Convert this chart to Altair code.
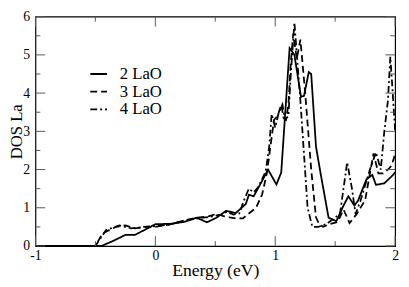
import altair as alt
import pandas as pd

# ---- data ----
e2 = [-1.0, -0.45, -0.36, -0.25, -0.17, -0.09, 0.0, 0.13, 0.24, 0.345, 0.43, 0.51, 0.59, 0.62, 0.67,
      0.755, 0.78, 0.82, 0.89, 0.94, 1.01, 1.05, 1.12, 1.16, 1.215, 1.24, 1.28, 1.30, 1.34, 1.38,
      1.445, 1.51, 1.57, 1.61, 1.66, 1.69, 1.76, 1.81, 1.84, 1.91, 1.98, 2.0]
d2 = [0.0, 0.0, 0.12, 0.29, 0.29, 0.42, 0.57, 0.58, 0.63, 0.74, 0.62, 0.74, 0.92, 0.9, 0.86,
      1.1, 1.34, 1.3, 1.7, 2.0, 1.61, 1.92, 5.18, 5.0, 3.9, 3.93, 4.55, 4.5, 2.6, 1.87,
      0.74, 0.65, 1.06, 1.3, 1.06, 1.18, 1.74, 1.86, 1.6, 1.64, 1.85, 1.93]

e3 = [-1.0, -0.5, -0.44, -0.33, -0.25, -0.17, -0.09, 0.0, 0.13, 0.24, 0.35, 0.45, 0.51, 0.57, 0.62,
      0.68, 0.73, 0.78, 0.84, 0.89, 0.93, 0.96, 0.99, 1.02, 1.05, 1.07, 1.09, 1.11, 1.13, 1.15,
      1.18, 1.21, 1.25, 1.30, 1.34, 1.37, 1.40, 1.46, 1.52, 1.57, 1.62, 1.68, 1.75, 1.79, 1.82,
      1.86, 1.90, 1.94, 1.97, 2.0]
d3 = [0.0, 0.0, 0.33, 0.5, 0.54, 0.46, 0.5, 0.5, 0.57, 0.67, 0.74, 0.78, 0.84, 0.78, 0.75,
      0.72, 0.72, 0.85, 1.0, 1.34, 1.9, 2.6, 3.3, 3.4, 3.7, 3.35, 3.3, 3.7, 4.8, 5.55,
      4.9, 5.4, 4.0, 2.0, 0.75, 0.55, 0.5, 0.58, 0.63, 0.95, 0.6, 0.84, 1.2, 1.9, 2.42,
      1.9, 1.9, 2.0, 2.1, 2.4]

e4 = [-1.0, -0.5, -0.41, -0.3, -0.2, -0.1, 0.0, 0.12, 0.24, 0.35, 0.45, 0.55, 0.6, 0.65, 0.7,
      0.74, 0.78, 0.82, 0.86, 0.92, 0.95, 0.97, 1.0, 1.03, 1.06, 1.08, 1.11, 1.13, 1.16, 1.19,
      1.21, 1.24, 1.27, 1.31, 1.36, 1.43, 1.54, 1.6, 1.64, 1.67, 1.71, 1.79, 1.84, 1.88, 1.91,
      1.94, 1.96, 1.98, 2.0]
d4 = [0.0, 0.0, 0.42, 0.54, 0.46, 0.5, 0.52, 0.56, 0.67, 0.72, 0.76, 0.82, 0.9, 0.82, 0.85,
      1.2, 1.5, 1.4, 1.55, 1.95, 2.6, 3.45, 3.1, 3.5, 3.7, 3.3, 3.4, 4.5, 5.85, 4.6,
      3.8, 2.4, 1.0, 0.5, 0.5, 0.58, 0.84, 2.19, 1.5, 0.84, 1.17, 2.0, 2.45, 2.0, 3.0,
      3.8, 4.95, 4.0, 3.0]

series = ["2 LaO", "3 LaO", "4 LaO"]
dashes = [[1, 0], [7, 4], [7, 3, 2, 3]]

x_major = [-1, 0, 1, 2]
x_minor = [-0.5, 0.5, 1.5]
y_major = [0, 1, 2, 3, 4, 5, 6]
y_minor = [0.5, 1.5, 2.5, 3.5, 4.5, 5.5]

W, H = 367, 234
FONT = "Liberation Serif"

rows = []
for name, es, ds in zip(series, [e2, e3, e4], [d2, d3, d4]):
    for i, (e, d) in enumerate(zip(es, ds)):
        rows.append({"E": e, "D": d, "s": name, "i": i})
df = pd.DataFrame(rows)

xs = alt.Scale(domain=[-1, 2], nice=False, zero=False)
ys = alt.Scale(domain=[0, 6], nice=False, zero=False)

xaxis = alt.Axis(
    title="Energy (eV)", values=x_major, ticks=False, tickSize=0, domain=False, grid=False,
    labelPadding=3, labelExpr="'' + datum.value", labelFlush=False,
    titleY=25, titleBaseline="middle", titleFontSize=18)
yaxis = alt.Axis(
    title="DOS La", values=y_major, ticks=False, tickSize=0, domain=False, grid=False,
    labelPadding=6, labelFlush=False,
    titleX=-19, titleBaseline="middle", titleFontSize=17)

lines = alt.Chart(df).mark_line(color="black", strokeWidth=1.8, clip=True).encode(
    x=alt.X("E:Q", scale=xs, axis=xaxis),
    y=alt.Y("D:Q", scale=ys, axis=yaxis),
    strokeDash=alt.StrokeDash("s:N", scale=alt.Scale(domain=series, range=dashes),
                              legend=alt.Legend(title=None, orient="none", legendX=55, legendY=49,
                                                symbolType="stroke", symbolSize=289,
                                                symbolStrokeWidth=1.8, symbolStrokeColor="black",
                                                labelOffset=12, rowPadding=0)),
    detail="s:N",
    order="i:Q",
)

tick_color = "#555555"

def xticks(vals, length, top):
    d = pd.DataFrame({"E": vals})
    if top:
        yy, yy2 = alt.value(0), alt.value(length)
    else:
        yy, yy2 = alt.value(H), alt.value(H - length)
    return alt.Chart(d).mark_rule(color=tick_color, strokeWidth=1).encode(
        x=alt.X("E:Q", scale=xs, axis=xaxis), y=yy, y2=yy2)

def yticks(vals, length, right):
    d = pd.DataFrame({"D": vals})
    if right:
        xx, xx2 = alt.value(W), alt.value(W - length)
    else:
        xx, xx2 = alt.value(0), alt.value(length)
    return alt.Chart(d).mark_rule(color=tick_color, strokeWidth=1).encode(
        y=alt.Y("D:Q", scale=ys, axis=yaxis), x=xx, x2=xx2)

ticks = [
    xticks(x_major, 10, False), xticks(x_minor, 5, False),
    xticks(x_major, 10, True), xticks(x_minor, 5, True),
    yticks(y_major, 10, False), yticks(y_minor, 5, False),
    yticks(y_major, 10, True), yticks(y_minor, 5, True),
]

chart = alt.layer(lines, *ticks).properties(
    width=W, height=H,
    autosize=alt.AutoSizeParams(type="none"),
    padding={"left": 28, "top": 6, "right": 6, "bottom": 39},
).configure(
    background="white", font=FONT
).configure_view(
    stroke="black", strokeWidth=1.2
).configure_axis(
    labelFont=FONT, labelFontSize=14, labelColor="black",
    titleFont=FONT, titleFontWeight="normal", titleColor="black",
).configure_legend(
    labelFont=FONT, labelFontSize=17, labelColor="black",
)

chart.save("out.html", embed_options={"renderer": "svg", "actions": False})
